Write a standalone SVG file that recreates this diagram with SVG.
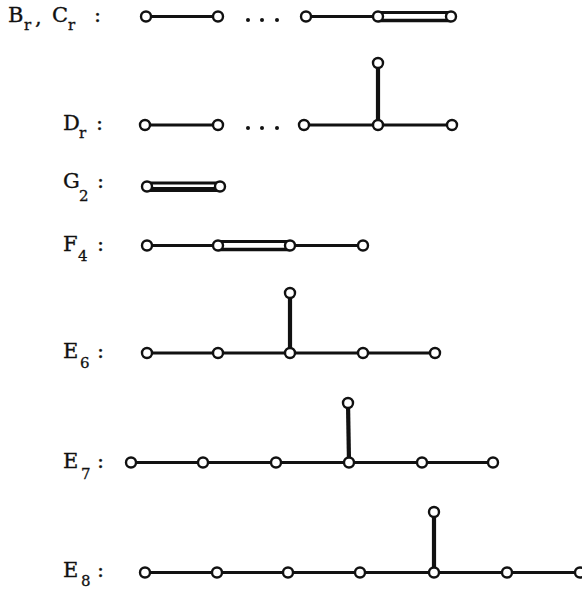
<svg xmlns="http://www.w3.org/2000/svg" width="582" height="589" viewBox="0 0 582 589">
<style>
.lbl{font-family:"DejaVu Serif","Liberation Serif",serif;font-size:21px;fill:#111;stroke:#111;stroke-width:0.35}
.sub{font-family:"DejaVu Serif","Liberation Serif",serif;font-size:15px;fill:#111;stroke:#111;stroke-width:0.3}
.e{stroke:#111;stroke-width:3;fill:none;stroke-linecap:round}
.v{stroke:#111;stroke-width:4.2;fill:none}
.b{stroke:#111;stroke-width:3.6;fill:none}
.n{fill:#fff;stroke:#111;stroke-width:2.4}
.dot{fill:#111}
</style>
<rect width="582" height="589" fill="#fff"/>
<g id="connectors">
  <line class="e" x1="146" y1="16.5" x2="218" y2="16.5"/>
  <line class="e" x1="306" y1="16.5" x2="378" y2="16.5"/>
  <line class="e" x1="378" y1="12.5" x2="451" y2="12.5"/>
  <line class="b" x1="378" y1="20.5" x2="451" y2="20.5"/>
  <line class="e" x1="145" y1="125" x2="218" y2="125"/>
  <line class="e" x1="304" y1="125" x2="452" y2="125"/>
  <line class="v" x1="378" y1="63" x2="378" y2="125"/>
  <line class="e" x1="147" y1="183" x2="220" y2="183"/>
  <line stroke="#111" stroke-width="5" x1="147" y1="189.5" x2="220" y2="189.5"/>
  <line class="e" x1="147" y1="245.5" x2="218" y2="245.5"/>
  <line class="e" x1="218" y1="241.5" x2="290" y2="241.5"/>
  <line class="b" x1="218" y1="249.5" x2="290" y2="249.5"/>
  <line class="e" x1="290" y1="245.5" x2="363" y2="245.5"/>
  <line class="e" x1="147" y1="353" x2="435" y2="353"/>
  <line class="v" x1="290" y1="293" x2="290" y2="353"/>
  <line class="e" x1="131" y1="462.5" x2="493" y2="462.5"/>
  <line class="v" x1="348" y1="403" x2="349" y2="462.5"/>
  <line class="e" x1="145" y1="572.5" x2="580" y2="572.5"/>
  <line class="v" x1="434" y1="512" x2="434" y2="572.5"/>
</g>
<g id="dots">
  <circle class="dot" cx="248" cy="20" r="2"/>
  <circle class="dot" cx="262" cy="20" r="2"/>
  <circle class="dot" cx="277" cy="20" r="2"/>
  <circle class="dot" cx="248" cy="128" r="2"/>
  <circle class="dot" cx="262" cy="128" r="2"/>
  <circle class="dot" cx="277" cy="128" r="2"/>
</g>
<g id="BrCr">
  <text class="lbl" x="8" y="22">B</text><text class="sub" x="24" y="30">r</text><text class="lbl" x="35" y="24">,</text>
  <text class="lbl" x="52" y="22">C</text><text class="sub" x="68" y="30">r</text><text class="lbl" x="94" y="22">:</text>
  <circle class="n" cx="146" cy="16.5" r="5"/>
  <circle class="n" cx="218" cy="16.5" r="5"/>
  <circle class="n" cx="306" cy="16.5" r="5"/>
  <circle class="n" cx="378" cy="16.5" r="5"/>
  <circle class="n" cx="451" cy="16.5" r="5"/>
</g>
<g id="Dr">
  <text class="lbl" x="63" y="130">D</text><text class="sub" x="79" y="138">r</text><text class="lbl" x="96" y="130">:</text>
  <circle class="n" cx="145" cy="125" r="5"/>
  <circle class="n" cx="218" cy="125" r="5"/>
  <circle class="n" cx="304" cy="125" r="5"/>
  <circle class="n" cx="378" cy="125" r="5"/>
  <circle class="n" cx="452" cy="125" r="5"/>
  <circle class="n" cx="378" cy="63" r="5"/>
</g>
<g id="G2">
  <text class="lbl" x="63" y="188">G</text><text class="sub" x="79" y="201">2</text><text class="lbl" x="97" y="188">:</text>
  <circle class="n" cx="147" cy="186.5" r="5"/>
  <circle class="n" cx="220" cy="186.5" r="5"/>
</g>
<g id="F4">
  <text class="lbl" x="63" y="251">F</text><text class="sub" x="78" y="261">4</text><text class="lbl" x="97" y="251">:</text>
  <circle class="n" cx="147" cy="245.5" r="5"/>
  <circle class="n" cx="218" cy="245.5" r="5"/>
  <circle class="n" cx="290" cy="245.5" r="5"/>
  <circle class="n" cx="363" cy="245.5" r="5"/>
</g>
<g id="E6">
  <text class="lbl" x="63" y="358">E</text><text class="sub" x="80" y="368">6</text><text class="lbl" x="97" y="358">:</text>
  <circle class="n" cx="147" cy="353" r="5"/>
  <circle class="n" cx="218" cy="353" r="5"/>
  <circle class="n" cx="290" cy="353" r="5"/>
  <circle class="n" cx="363" cy="353" r="5"/>
  <circle class="n" cx="435" cy="353" r="5"/>
  <circle class="n" cx="290" cy="293" r="5"/>
</g>
<g id="E7">
  <text class="lbl" x="63" y="468">E</text><text class="sub" x="81" y="479">7</text><text class="lbl" x="97" y="468">:</text>
  <circle class="n" cx="131" cy="462.5" r="5"/>
  <circle class="n" cx="203" cy="462.5" r="5"/>
  <circle class="n" cx="276" cy="462.5" r="5"/>
  <circle class="n" cx="349" cy="462.5" r="5"/>
  <circle class="n" cx="422" cy="462.5" r="5"/>
  <circle class="n" cx="493" cy="462.5" r="5"/>
  <circle class="n" cx="348" cy="403" r="5"/>
</g>
<g id="E8">
  <text class="lbl" x="63" y="577">E</text><text class="sub" x="81" y="586">8</text><text class="lbl" x="97" y="577">:</text>
  <circle class="n" cx="145" cy="572.5" r="5"/>
  <circle class="n" cx="217" cy="572.5" r="5"/>
  <circle class="n" cx="288" cy="572.5" r="5"/>
  <circle class="n" cx="360" cy="572.5" r="5"/>
  <circle class="n" cx="434" cy="572.5" r="5"/>
  <circle class="n" cx="507" cy="572.5" r="5"/>
  <circle class="n" cx="580" cy="572.5" r="5"/>
  <circle class="n" cx="434" cy="512" r="5"/>
</g>
</svg>
